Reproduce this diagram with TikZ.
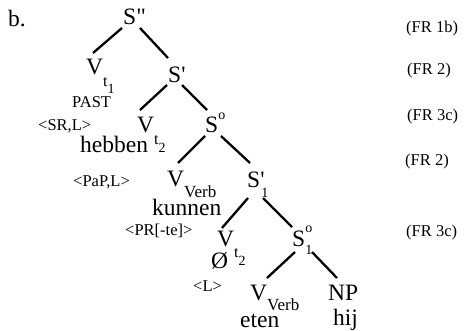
\documentclass[tikz,border=0pt]{standalone}
\usepackage{fontspec}
\setmainfont{Liberation Serif}[Ligatures=TeXOff]
\usepackage{tikz}
\usetikzlibrary{calc}
\newcommand{\treesz}{\fontsize{23.5}{24}\selectfont}
\newcommand{\subsz}{\fontsize{16}{16}\selectfont}
\newcommand{\supsz}{\fontsize{14}{14}\selectfont}
\newcommand{\verbsz}{\fontsize{17}{17}\selectfont}
\newcommand{\featsz}{\fontsize{16.5}{17}\selectfont}
\newcommand{\rulesz}{\fontsize{16.5}{17}\selectfont}

\begin{document}
\begin{tikzpicture}[x=1pt, y=-1pt,
    word/.style={inner sep=0pt, anchor=base west, font=\treesz},
    feat/.style={inner sep=0pt, anchor=base west, font=\featsz},
    rulelbl/.style={inner sep=0pt, anchor=west, font=\rulesz},
    branch/.style={line width=2.3pt}]
    \fill[white] (0,0) rectangle (471,331);
    \useasboundingbox (0,0) rectangle (471,331);

    \node[word] (ex) at (8,27) {b.};

    \node[word] (spp) at (123,25) {S\symbol{34}};
    \node[word] (vt1) at (86,75) {V\raisebox{-12pt}{\subsz t\raisebox{-7pt}{\supsz 1}}};
    \node[word] (sp) at (168,83) {S\symbol{39}};
    \node[feat] (past) at (72,108) {PAST};
    \node[feat] (srl) at (38,131) {<SR,L>};

    \node[word] (vt2) at (137,133) {V\raisebox{-12pt}{\subsz t\raisebox{-8pt}{\supsz 2}}};
    \node[word] (so) at (205,133) {S\raisebox{13pt}{\supsz o}};
    \node[word] (hebben) at (80,153) {hebben};
    \node[feat] (papl) at (73,186) {<PaP,L>};

    \node[word] (vverb) at (167,187) {V\raisebox{-10pt}{\verbsz Verb}};
    \node[word] (sp1) at (247,188) {S\rlap{\symbol{39}}\kern1pt\raisebox{-10pt}{\supsz 1}};
    \node[word] (kunnen) at (152,215) {kunnen};
    \node[feat] (prte) at (125,236) {<PR[-te]>};

    \node[word] (vt2b) at (217,247) {V\raisebox{-10pt}{\subsz t\raisebox{-8pt}{\supsz 2}}};
    \node[word] (so1) at (292,247) {S\rlap{\raisebox{14pt}{\supsz o}}\raisebox{-8pt}{\supsz 1}};
    \node[word] (zero) at (211,268) {Ø};
    \node[feat] (ltag) at (193,291) {<L>};

    \node[word] (vverbb) at (250,300) {V\raisebox{-10pt}{\verbsz Verb}};
    \node[word] (np) at (328,300) {NP};
    \node[word] (eten) at (240,327) {eten};
    \node[word] (hij) at (333,325) {hij};

    \node[rulelbl] (fr1) at (406,29) {(FR 1b)};
    \node[rulelbl] (fr2) at (407,71) {(FR 2)};
    \node[rulelbl] (fr3) at (407,117) {(FR 3c)};
    \node[rulelbl] (fr4) at (405,162) {(FR 2)};
    \node[rulelbl] (fr5) at (406,233) {(FR 3c)};

    \draw[branch] ($(spp.base west)+(-1,3)$) -- ($(vt1.base west)+(7,-22)$);
    \draw[branch] ($(spp.base west)+(17,3)$) -- ($(sp.base west)+(0,-25)$);
    \draw[branch] ($(sp.base west)+(-1,2)$) -- ($(vt2.base west)+(3,-23)$);
    \draw[branch] ($(sp.base west)+(14,2)$) -- ($(so.base west)+(2,-23)$);
    \draw[branch] ($(so.base west)+(0,3)$) -- ($(vverb.base west)+(11,-24)$);
    \draw[branch] ($(so.base west)+(16,3)$) -- ($(sp1.base west)+(3,-25)$);
    \draw[branch] ($(sp1.base west)+(1,10)$) -- ($(vt2b.base west)+(5,-19)$);
    \draw[branch] ($(sp1.base west)+(16,10)$) -- ($(so1.base west)+(0,-20)$);
    \draw[branch] ($(so1.base west)+(3,5)$) -- ($(vverbb.base west)+(17,-22)$);
    \draw[branch] ($(so1.base west)+(20,5)$) -- ($(np.base west)+(9,-22)$);
\end{tikzpicture}
\end{document}
